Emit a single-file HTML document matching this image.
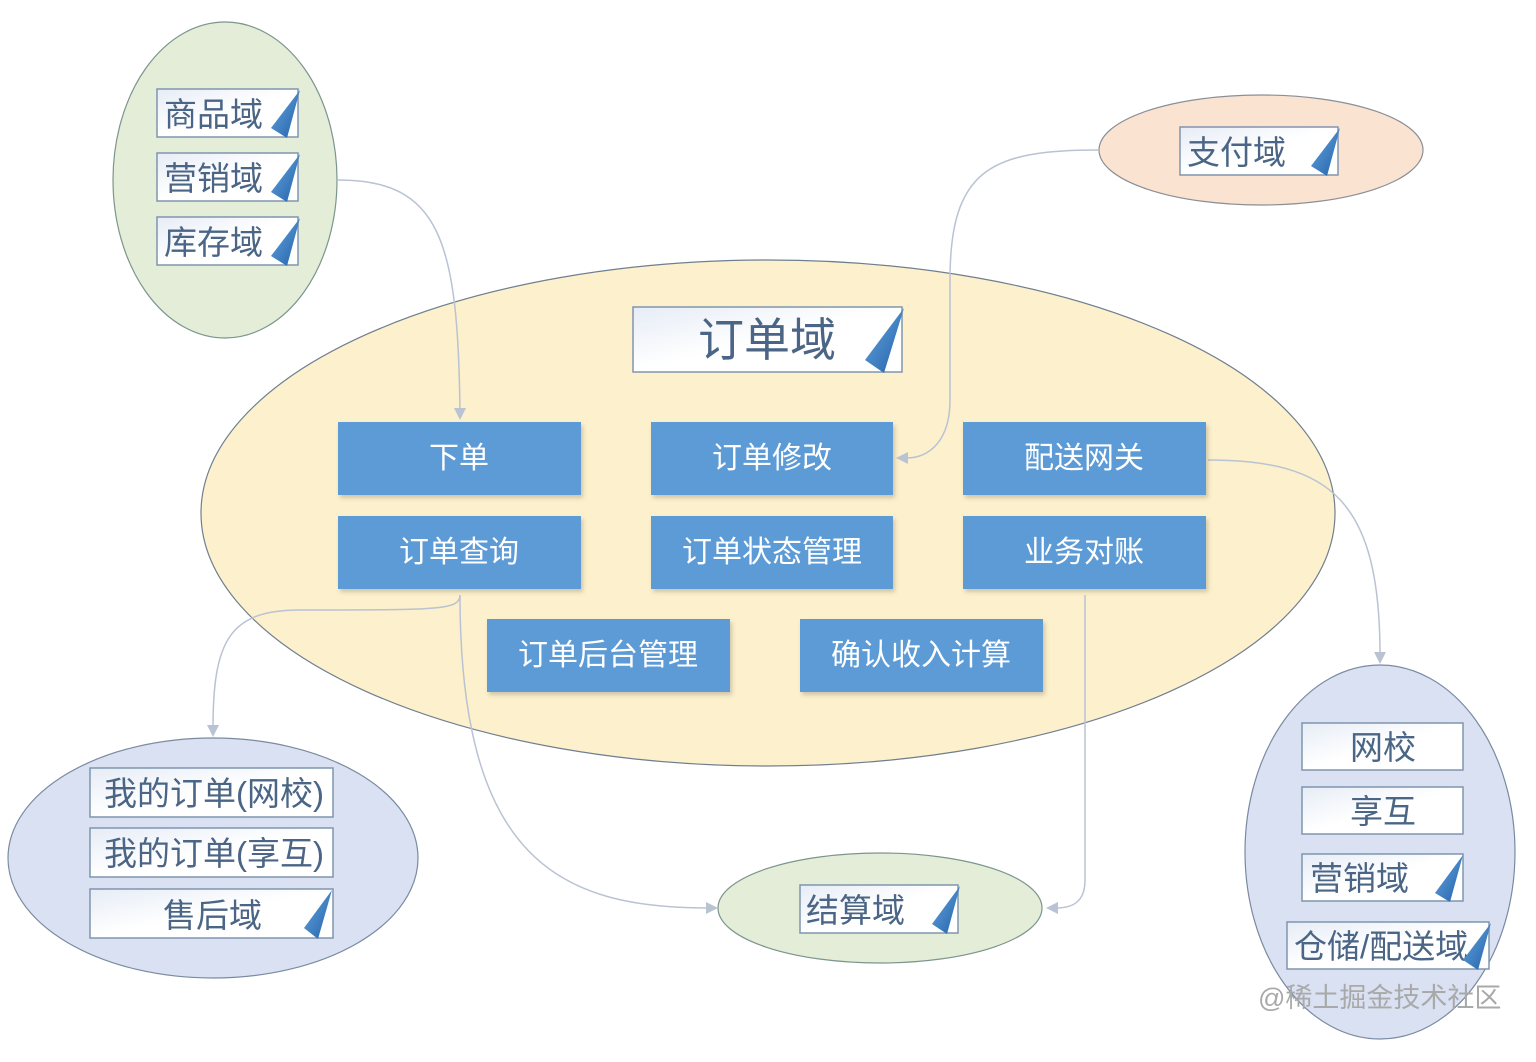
<!DOCTYPE html>
<html><head><meta charset="utf-8"><style>
html,body{margin:0;padding:0;background:#fff;}
svg{display:block;}
text{font-family:"Liberation Sans","Noto Sans CJK SC",sans-serif;}
.lb{fill:url(#lg);stroke:#7f95ae;stroke-width:1.5;}
.lt{fill:#4a6585;font-size:33px;}
.tri{fill:url(#tg);}
.bx{fill:#5b9bd5;filter:url(#sh);}
.bt{fill:#fff;font-size:30px;text-anchor:middle;}
.cn{fill:none;stroke:#b9c3d3;stroke-width:1.5;}
.ar{fill:#b9c3d3;}
</style></head><body>
<svg width="1536" height="1062" viewBox="0 0 1536 1062" xmlns="http://www.w3.org/2000/svg">
<defs>
<linearGradient id="lg" x1="0" y1="0" x2="1" y2="1"><stop offset="0" stop-color="#e6ecf6"/><stop offset="0.5" stop-color="#ffffff"/><stop offset="1" stop-color="#ffffff"/></linearGradient>
<linearGradient id="tg" x1="0" y1="0" x2="1" y2="1"><stop offset="0" stop-color="#6aa8e0"/><stop offset="1" stop-color="#1f5fa8"/></linearGradient>
<filter id="sh" x="-5%" y="-5%" width="115%" height="125%"><feDropShadow dx="2" dy="3" stdDeviation="2" flood-color="#000" flood-opacity="0.18"/></filter>
</defs>

<ellipse cx="768" cy="513" rx="567" ry="253" fill="#fdf0cc" stroke="#6f7f8f" stroke-width="1.2"/>
<ellipse cx="225" cy="180" rx="112" ry="158" fill="#e3edd8" stroke="#7c958d" stroke-width="1.2"/>
<ellipse cx="1261" cy="150" rx="162" ry="55" fill="#fbe3d2" stroke="#8a8f96" stroke-width="1.2"/>
<ellipse cx="213" cy="858" rx="205" ry="120" fill="#d9e1f2" stroke="#7a8aa0" stroke-width="1.2"/>
<ellipse cx="880" cy="908" rx="162" ry="55" fill="#e3edd8" stroke="#7c958d" stroke-width="1.2"/>
<ellipse cx="1380" cy="852" rx="135" ry="187" fill="#d9e1f2" stroke="#7a8aa0" stroke-width="1.2"/>

<path class="cn" d="M338,180 C440,180 458,240 460,412"/>
<polygon class="ar" points="454,408 466,408 460,420"/>
<path class="cn" d="M1098,150 C990,150 950,170 950,280 L950,400 C950,440 930,458 906,458"/>
<polygon class="ar" points="908,452 908,464 896,458"/>
<path class="cn" d="M1208,460 C1330,460 1380,500 1380,655"/>
<polygon class="ar" points="1374,652 1386,652 1380,664"/>
<path class="cn" d="M460,595 C460,610 440,610 300,610 C230,610 213,640 213,728"/>
<polygon class="ar" points="207,725 219,725 213,737"/>
<path class="cn" d="M460,595 C460,860 560,908 708,908"/>
<polygon class="ar" points="706,902 706,914 718,908"/>
<path class="cn" d="M1085,595 L1085,880 C1085,900 1075,908 1056,908"/>
<polygon class="ar" points="1058,902 1058,914 1046,908"/>

<rect class="lb" x="157" y="89" width="141" height="48"/><text class="lt" x="164" y="126">商品域</text><polygon class="tri" points="300,90 271,128 287,138"/>
<rect class="lb" x="157" y="153" width="141" height="48"/><text class="lt" x="164" y="190">营销域</text><polygon class="tri" points="300,154 271,192 287,202"/>
<rect class="lb" x="157" y="217" width="141" height="48"/><text class="lt" x="164" y="254">库存域</text><polygon class="tri" points="300,218 271,256 287,266"/>

<rect class="lb" x="1180" y="127" width="158" height="48"/><text class="lt" x="1187" y="164">支付域</text><polygon class="tri" points="1340,128 1311,166 1327,176"/>

<rect class="lb" x="633" y="307" width="269" height="65"/><text class="lt" style="font-size:46px" x="698" y="356">订单域</text><polygon class="tri" points="904,308 865,360 884,373"/>

<rect class="bx" x="338" y="422" width="243" height="73"/><text class="bt" x="459" y="468">下单</text>
<rect class="bx" x="651" y="422" width="242" height="73"/><text class="bt" x="772" y="468">订单修改</text>
<rect class="bx" x="963" y="422" width="243" height="73"/><text class="bt" x="1084" y="468">配送网关</text>
<rect class="bx" x="338" y="516" width="243" height="73"/><text class="bt" x="459" y="562">订单查询</text>
<rect class="bx" x="651" y="516" width="242" height="73"/><text class="bt" x="772" y="562">订单状态管理</text>
<rect class="bx" x="963" y="516" width="243" height="73"/><text class="bt" x="1084" y="562">业务对账</text>
<rect class="bx" x="487" y="619" width="243" height="73"/><text class="bt" x="608" y="665">订单后台管理</text>
<rect class="bx" x="800" y="619" width="243" height="73"/><text class="bt" x="921" y="665">确认收入计算</text>

<rect class="lb" x="90" y="768" width="243" height="49"/><text class="lt" x="104" y="805">我的订单(网校)</text>
<rect class="lb" x="90" y="828" width="243" height="49"/><text class="lt" x="104" y="865">我的订单(享互)</text>
<rect class="lb" x="90" y="889" width="243" height="49"/><text class="lt" x="163" y="927">售后域</text><polygon class="tri" points="332,890 304,928 318,939"/>

<rect class="lb" x="800" y="885" width="158" height="48"/><text class="lt" x="806" y="922">结算域</text><polygon class="tri" points="960,886 932,924 947,934"/>

<rect class="lb" x="1302" y="723" width="161" height="47"/><text class="lt" x="1350" y="759">网校</text>
<rect class="lb" x="1302" y="787" width="161" height="47"/><text class="lt" x="1350" y="823">享互</text>
<rect class="lb" x="1302" y="854" width="161" height="47"/><text class="lt" x="1310" y="890">营销域</text><polygon class="tri" points="1463,855 1435,893 1450,902"/>
<rect class="lb" x="1287" y="922" width="202" height="47"/><text class="lt" x="1294" y="958">仓储/配送域</text><polygon class="tri" points="1491,923 1463,960 1478,970"/>

<text x="1258" y="1007" style="font-size:27px;fill:#a9a9a9;">@稀土掘金技术社区</text>
</svg>
</body></html>
